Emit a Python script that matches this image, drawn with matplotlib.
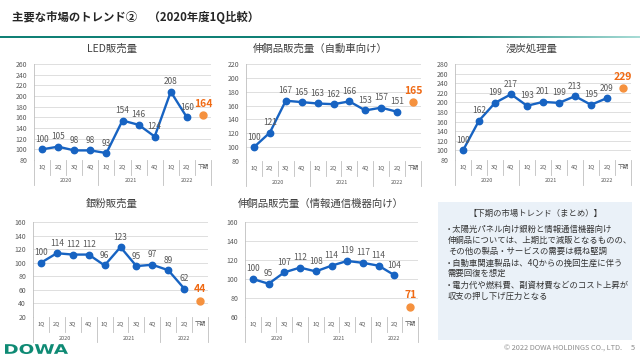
import matplotlib
matplotlib.use('Agg')
import matplotlib.pyplot as plt
from matplotlib.textpath import TextPath
from matplotlib.patches import PathPatch, Rectangle
from matplotlib.font_manager import FontProperties
import matplotlib.transforms as mtransforms
import numpy as np

plt.rcParams['font.family'] = ['Noto Sans CJK JP', 'DejaVu Sans']

# ---------------- data ----------------
categories = ['1Q', '2Q', '3Q', '4Q', '1Q', '2Q', '3Q', '4Q', '1Q', '2Q', '下期']
years = ['2020', '2021', '2022']
year_spans = [(0, 4), (4, 8), (8, 11)]

led_values = [100, 105, 98, 98, 93, 154, 146, 124, 208, 160]
led_forecast = 164
auto_copper_values = [100, 121, 167, 165, 163, 162, 166, 153, 157, 151]
auto_copper_forecast = 165
carburizing_values = [100, 162, 199, 217, 193, 201, 199, 213, 195, 209]
carburizing_forecast = 229
silver_values = [100, 114, 112, 112, 96, 123, 95, 97, 89, 62]
silver_forecast = 44
ict_copper_values = [100, 95, 107, 112, 108, 114, 119, 117, 114, 104]
ict_copper_forecast = 71

titles = ['LED販売量', '伸銅品販売量（自動車向け）', '浸炭処理量', '銀粉販売量',
          '伸銅品販売量（情報通信機器向け）']

BLUE = '#1763C2'
ORANGE = '#F5913E'
ORANGE_T = '#F06A14'
GRAY_T = '#595959'
LINE_G = '#BFBFBF'

W, H = 640, 360
fig = plt.figure(figsize=(6.4, 3.6), dpi=100)
fig.patch.set_facecolor('white')


def rect(l, t, r, b):
    return [l / W, 1 - b / H, (r - l) / W, (b - t) / H]


def draw_chart(box, title, tpos, values, fc, ylim, step=20):
    l, t, r, b = box
    ax = fig.add_axes(rect(l, t, r, b))
    x = np.arange(len(values))
    ax.plot(x, values, color=BLUE, lw=1.7, marker='o', ms=4.6, zorder=3, clip_on=False)
    for xi, v in zip(x, values):
        ax.annotate(str(v), (xi, v), xytext=(0, 4), textcoords='offset points',
                    ha='center', va='bottom', fontsize=6, color=GRAY_T, zorder=4)
    ax.plot([len(values)], [fc], 'o', color=ORANGE, ms=5, zorder=3, clip_on=False)
    ax.annotate(str(fc), (len(values), fc), xytext=(0, 4.5), textcoords='offset points',
                ha='center', va='bottom', fontsize=7.5, fontweight='bold', color=ORANGE_T)
    ax.set_xlim(-0.5, 10.5)
    ax.set_ylim(*ylim)
    ax.set_yticks(np.arange(ylim[0], ylim[1] + 1, step))
    ax.grid(axis='y', color='#D9D9D9', lw=0.6)
    ax.set_axisbelow(True)
    for s in ['top', 'right', 'bottom']:
        ax.spines[s].set_visible(False)
    ax.spines['left'].set_color(LINE_G)
    ax.spines['left'].set_linewidth(0.6)
    ax.tick_params(axis='y', length=0, labelsize=5, colors=GRAY_T, pad=5)
    ax.set_xticks([])
    ax.set_facecolor('none')
    h = b - t
    trans = ax.get_xaxis_transform()
    for k in range(12):
        xb = k - 0.5
        depth = 25 if k in (0, 4, 8, 11) else 15
        ax.plot([xb, xb], [0, -depth / h], transform=trans, color=LINE_G, lw=0.6,
                clip_on=False)
    for i, c in enumerate(categories):
        ax.text(i, -7 / h, c, transform=trans, ha='center', va='center',
                fontsize=4.1, color=GRAY_T)
    for yl, (a, bb) in zip(years, year_spans):
        ax.text((a + bb - 1) / 2, -21 / h, yl, transform=trans, ha='center',
                va='center', fontsize=4, color=GRAY_T)
    fig.text(tpos[0] / W, 1 - tpos[1] / H, title, ha='center', va='center',
             fontsize=7.5, color='#404040')
    return ax


draw_chart((34, 64, 211, 160), titles[0], (112, 49), led_values, led_forecast, (80, 260))
draw_chart((246, 64, 421, 161), titles[1], (320, 49), auto_copper_values,
           auto_copper_forecast, (80, 220))
draw_chart((455, 64, 631, 160), titles[2], (532, 49), carburizing_values,
           carburizing_forecast, (80, 280))
draw_chart((33, 222, 208, 317), titles[3], (112, 204), silver_values, silver_forecast,
           (20, 160))
draw_chart((245, 222, 418, 317), titles[4], (321, 204), ict_copper_values,
           ict_copper_forecast, (60, 160))

# ---------------- header ----------------
fig.text(12 / W, 1 - 18 / H, '主要な市場のトレンド②　（2020年度1Q比較）', ha='left',
         va='center', fontsize=8.2, fontweight='bold', color='#262626')
gax = fig.add_axes([0, 1 - 38.5 / H, 1, 2.5 / H])
grad = np.ones((1, 256, 3))
c0 = np.array([0x10, 0x80, 0x76]) / 255
c1 = np.array([0xA8, 0xDC, 0xD6]) / 255
tt = np.linspace(0, 1, 256)
f = np.clip((tt - 0.7) / 0.3, 0, 1)
grad[0] = c0[None, :] * (1 - f[:, None]) + c1[None, :] * f[:, None]
gax.imshow(grad, aspect='auto', extent=[0, 1, 0, 1])
gax.axis('off')

# ---------------- summary box ----------------
fig.patches.append(Rectangle((438 / W, 1 - 340 / H), (632 - 438) / W, (340 - 202) / H,
                             transform=fig.transFigure, facecolor='#EAF1F8',
                             edgecolor='none', zorder=0))
fig.text(535 / W, 1 - 213 / H, '【下期の市場トレンド（まとめ）】', ha='center', va='center',
         fontsize=6, color='#333333')
box_lines = [
    (445, 229, '・太陽光パネル向け銀粉と情報通信機器向け'),
    (448, 240, '伸銅品については、上期比で減販となるものの、'),
    (448, 251, 'その他の製品・サービスの需要は概ね堅調'),
    (445, 263, '・自動車関連製品は、4Qからの挽回生産に伴う'),
    (448, 273, '需要回復を想定'),
    (445, 285, '・電力代や燃料費、副資材費などのコスト上昇が'),
    (448, 296, '収支の押し下げ圧力となる'),
]
for xx, yy, s in box_lines:
    fig.text(xx / W, 1 - yy / H, s, ha='left', va='center', fontsize=6, color='#333333')

# ---------------- footer ----------------
fig.text(635 / W, 1 - 349 / H, '© 2022 DOWA HOLDINGS CO., LTD.　 5', ha='right',
         va='center', fontsize=5.3, color='#8C8C8C')

tp = TextPath((0, 0), 'DOWA', size=1, prop=FontProperties(family='DejaVu Sans',
                                                          weight='bold'))
bb = tp.get_extents()
sx = (68 - 5) / bb.width
sy = (354 - 344) / bb.height
tr = (mtransforms.Affine2D().translate(-bb.x0, -bb.y0).scale(sx, sy)
      .translate(5, H - 354))
logo = PathPatch(tr.transform_path(tp), facecolor='#0E8A74', edgecolor='none',
                 transform=mtransforms.IdentityTransform())
fig.patches.append(logo)

fig.savefig('out.png', dpi=100)
